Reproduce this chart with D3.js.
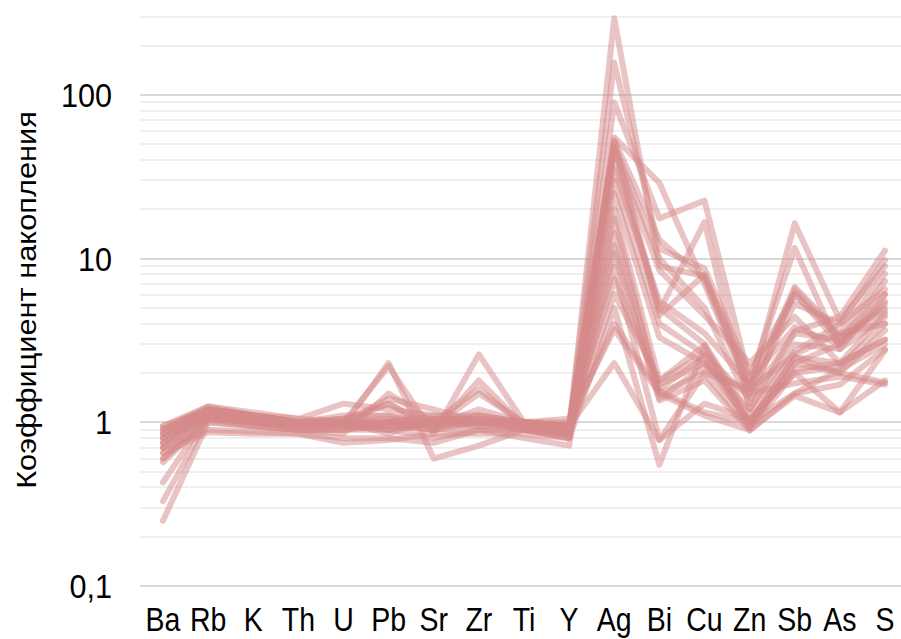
<!DOCTYPE html>
<html>
<head>
<meta charset="utf-8">
<title>Коэффициент накопления</title>
<script src="https://cdn.jsdelivr.net/npm/d3@7"></script>
<style>
  body { margin: 0; background: #fff; }
  text { font-family: "Liberation Sans", Arial, sans-serif; fill: #000; }
  .grid-minor { stroke: #efefef; stroke-width: 2px; }
  .grid-major { stroke: #d9d9d9; stroke-width: 2px; }
  .series { fill: none; stroke: #d58989; stroke-opacity: 0.5; stroke-width: 6px; stroke-linejoin: round; stroke-linecap: round; }
</style>
</head>
<body>
<div id="chart"></div>
<script>
var elements = ["Ba", "Rb", "K", "Th", "U", "Pb", "Sr", "Zr", "Ti", "Y", "Ag", "Bi", "Cu", "Zn", "Sb", "As", "S"];
var yTicks = [0.1, 1, 10, 100];
var yTickLabels = ["0,1", "1", "10", "100"];

// one array per sample, in the order of the elements above
var s1  = [0.85, 1.2, 1.1, 1.0, 1.05, 1.3, 0.9, 1.1, 0.95, 0.9, 294, 9.0, 7.8, 1.6, 6.7, 3.5, 8.1];
var s2  = [0.9, 1.25, 1.15, 1.05, 1.0, 0.95, 1.0, 1.05, 1.0, 0.95, 158, 11.5, 8.7, 2.0, 6.1, 3.0, 7.3];
var s3  = [0.7, 1.15, 1.05, 1.0, 1.1, 1.1, 0.95, 1.2, 1.0, 0.9, 90, 17.6, 22.6, 1.8, 3.8, 3.0, 5.3];
var s4  = [0.95, 1.2, 1.1, 1.0, 1.0, 0.9, 1.0, 1.0, 1.0, 0.95, 55, 29, 7.0, 1.5, 5.3, 4.0, 9.8];
var s5  = [0.8, 1.15, 1.05, 0.95, 0.95, 2.3, 0.6, 0.72, 0.9, 0.8, 52, 4.8, 16.7, 1.2, 3.6, 4.4, 11.2];
var s6  = [0.75, 1.1, 1.0, 0.95, 1.0, 2.2, 0.85, 2.6, 1.0, 0.85, 50, 10, 5.0, 1.3, 6.5, 3.3, 6.1];
var s7  = [0.65, 1.05, 0.95, 0.9, 0.9, 1.0, 0.9, 1.8, 0.95, 0.85, 46, 8.5, 4.5, 2.3, 4.4, 2.3, 4.6];
var s8  = [0.6, 1.0, 0.95, 0.9, 0.85, 1.5, 1.0, 1.6, 0.95, 0.9, 40, 5.0, 3.0, 1.1, 2.7, 4.0, 6.5];
var s9  = [0.95, 1.25, 1.1, 1.05, 1.3, 1.2, 1.1, 1.1, 1.0, 1.0, 30, 4.0, 2.6, 1.4, 3.5, 3.2, 4.8];
var s10 = [0.43, 1.1, 1.0, 0.95, 1.0, 1.05, 1.0, 1.0, 0.95, 0.9, 25, 3.3, 2.3, 1.0, 2.5, 2.0, 3.65];
var s11 = [0.33, 1.05, 1.0, 0.9, 0.9, 0.95, 0.9, 1.0, 0.9, 0.85, 20, 1.8, 2.95, 1.0, 2.1, 2.3, 3.2];
var s12 = [0.25, 1.0, 0.95, 0.9, 0.9, 0.9, 1.0, 0.95, 0.9, 0.88, 17.6, 1.5, 2.0, 0.92, 2.0, 1.15, 2.75];
var s13 = [0.85, 1.2, 1.1, 1.0, 1.0, 1.0, 1.1, 1.0, 1.0, 0.95, 14.3, 1.6, 2.5, 0.95, 2.3, 2.0, 1.75];
var s14 = [0.8, 1.15, 1.05, 1.0, 1.05, 1.1, 1.0, 1.05, 1.0, 0.9, 12, 1.4, 2.2, 1.5, 1.73, 1.9, 1.7];
var s15 = [0.7, 1.1, 1.0, 0.95, 0.95, 0.9, 0.8, 0.9, 0.9, 0.82, 10.8, 1.36, 1.8, 0.89, 1.5, 2.1, 3.0];
var s16 = [0.9, 1.2, 1.1, 1.0, 1.0, 1.0, 1.0, 1.1, 1.0, 0.9, 8.9, 0.78, 2.0, 1.6, 2.6, 3.5, 4.0];
var s17 = [0.75, 1.15, 1.05, 1.0, 1.0, 0.85, 1.05, 1.0, 1.0, 0.95, 7.5, 1.7, 2.3, 1.2, 3.0, 2.8, 4.4];
var s18 = [0.6, 1.1, 1.0, 0.95, 0.95, 1.0, 0.95, 1.0, 0.95, 0.85, 6.1, 1.8, 2.6, 1.0, 2.5, 2.3, 3.2];
var s19 = [0.57, 1.05, 1.0, 0.95, 0.95, 0.95, 0.9, 0.95, 0.9, 0.8, 5.0, 0.55, 2.9, 0.93, 2.3, 3.0, 5.5];
var s20 = [0.85, 1.2, 1.1, 1.0, 1.0, 1.0, 1.0, 1.0, 1.0, 0.95, 4.0, 1.55, 1.15, 1.0, 1.5, 1.7, 2.8];
var s21 = [0.8, 1.15, 1.05, 1.0, 1.0, 1.4, 1.2, 1.0, 1.0, 1.05, 3.7, 1.5, 1.1, 0.9, 1.45, 1.15, 1.8];
var s22 = [0.9, 1.2, 1.1, 1.0, 1.0, 1.3, 0.95, 1.5, 1.0, 0.95, 2.3, 0.78, 1.3, 1.05, 2.0, 2.2, 4.0];
var s23 = [0.65, 0.87, 0.85, 0.85, 0.8, 0.8, 0.75, 0.9, 0.8, 0.72, 35, 5.5, 3.5, 1.7, 6.0, 3.3, 5.0];
var s24 = [0.7, 0.9, 0.88, 0.85, 0.75, 0.78, 0.85, 0.85, 0.85, 0.8, 48, 4.5, 8.0, 1.8, 11.6, 2.8, 6.0];
var s25 = [0.75, 1.1, 1.0, 0.95, 0.95, 1.0, 1.05, 1.0, 0.95, 0.9, 53, 13, 7.5, 1.6, 16.4, 4.2, 9.0];

var samples = [s1, s2, s3, s4, s5, s6, s7, s8, s9, s10, s11, s12, s13, s14, s15, s16, s17, s18, s19, s20, s21, s22, s23, s24, s25];

var width = 901, height = 639;
var plotLeft = 140, plotRight = 901;

var svg = d3.select("#chart").append("svg")
    .attr("width", width)
    .attr("height", height);

var x = d3.scalePoint()
    .domain(elements)
    .range([163, 885]);

// 0.1 sits at 586, each decade ~163.7px
var y = d3.scaleLog()
    .domain([0.1, 300])
    .range([586, 586 - Math.log10(3000) * 163.7]);

// gridlines: every 1..9 step of each decade, up to 300
var gridVals = [];
[0.1, 1, 10, 100].forEach(function(dec) {
  for (var m = 1; m <= 9; m++) {
    var v = +(dec * m).toPrecision(3);
    if (v <= 300) gridVals.push(v);
  }
});

svg.append("g").selectAll("line")
    .data(gridVals)
  .enter().append("line")
    .attr("class", function(d) { return yTicks.indexOf(d) >= 0 ? "grid-major" : "grid-minor"; })
    .attr("x1", plotLeft)
    .attr("x2", plotRight)
    .attr("y1", function(d) { return Math.round(y(d)); })
    .attr("y2", function(d) { return Math.round(y(d)); });

var line = d3.line()
    .x(function(d, i) { return x(elements[i]); })
    .y(function(d) { return y(d); });

svg.append("g").selectAll("path")
    .data(samples)
  .enter().append("path")
    .attr("class", "series")
    .attr("d", line);

// y tick labels (the source font is a bit taller than Liberation Sans)
svg.append("g").selectAll("text")
    .data(yTicks)
  .enter().append("text")
    .attr("transform", function(d) { return "translate(112," + (y(d) + 12) + ") scale(1.02,1.12)"; })
    .attr("text-anchor", "end")
    .style("font-size", "30px")
    .text(function(d, i) { return yTickLabels[i]; });

// category labels, kept just inside the bottom edge
svg.append("g").selectAll("text")
    .data(elements)
  .enter().append("text")
    .attr("transform", function(d) { return "translate(" + x(d) + ",631) scale(0.95,1.08)"; })
    .attr("text-anchor", "middle")
    .style("font-size", "30px")
    .text(function(d) { return d; });

svg.append("text")
    .attr("transform", "translate(36,300) rotate(-90) scale(1.14,1.05)")
    .attr("text-anchor", "middle")
    .style("font-size", "27px")
    .text("Коэффициент накопления");
</script>
</body>
</html>
